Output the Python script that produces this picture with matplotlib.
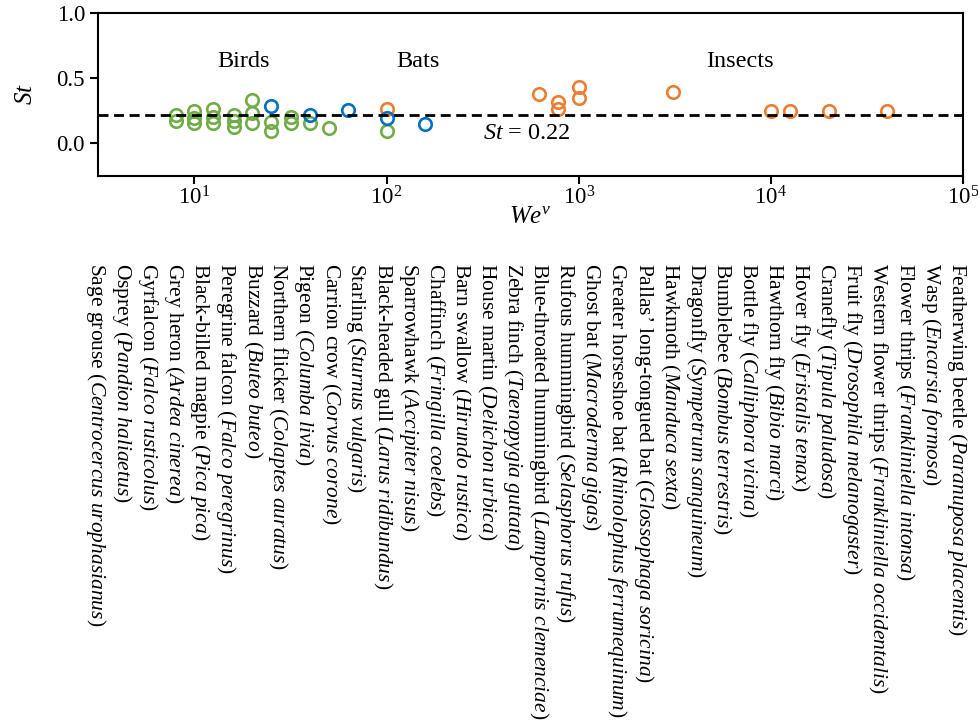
import matplotlib
matplotlib.use("Agg")
import matplotlib.pyplot as plt
from matplotlib.ticker import LogLocator, NullLocator

plt.rcParams["font.family"] = ["Liberation Serif", "DejaVu Serif"]
plt.rcParams["mathtext.fontset"] = "custom"
plt.rcParams["mathtext.rm"] = "Liberation Serif"
plt.rcParams["mathtext.it"] = "Liberation Serif:italic"
plt.rcParams["mathtext.bf"] = "Liberation Serif:bold"

# Weber number (We^v) and Strouhal number (St) per group
bird_we = [8, 8, 10, 10, 10, 12.5, 12.5, 12.5, 16, 16, 16, 20, 20, 20,
           25, 25, 32, 32, 40, 50, 100]
bird_st = [0.215, 0.175, 0.245, 0.195, 0.155, 0.26, 0.205, 0.155, 0.215,
           0.17, 0.125, 0.33, 0.235, 0.155, 0.165, 0.095, 0.20, 0.16, 0.16,
           0.115, 0.095]

bat_we = [25, 40, 63, 100, 158]
bat_st = [0.285, 0.215, 0.255, 0.195, 0.15]

insect_we = [100, 625, 780, 780, 1000, 1000, 3100, 10000, 12600, 20000, 40000]
insect_st = [0.265, 0.375, 0.32, 0.26, 0.435, 0.35, 0.39, 0.25, 0.25, 0.25, 0.25]

st_mean = 0.22

group_names = ["Birds", "Bats", "Insects"]
group_label_x = [18, 145, 6900]

species_common = [
    "Sage grouse", "Osprey", "Gyrfalcon", "Grey heron", "Black-billed magpie",
    "Peregrine falcon", "Buzzard", "Northern flicker", "Pigeon", "Carrion crow",
    "Starling", "Black-headed gull", "Sparrowhawk", "Chaffinch", "Barn swallow",
    "House martin", "Zebra finch", "Blue-throated hummingbird",
    "Rufous hummingbird", "Ghost bat", "Greater horseshoe bat",
    "Pallas\u2019 long-tongued bat", "Hawkmoth", "Dragonfly", "Bumblebee",
    "Bottle fly", "Hawthorn fly", "Hover fly", "Cranefly", "Fruit fly",
    "Western flower thrips", "Flower thrips", "Wasp", "Featherwing beetle",
]
species_latin = [
    "Centrocercus urophasianus", "Pandion haliaetus", "Falco rusticolus",
    "Ardea cinerea", "Pica pica", "Falco peregrinus", "Buteo buteo",
    "Colaptes auratus", "Columba livia", "Corvus corone", "Sturnus vulgaris",
    "Larus ridibundus", "Accipiter nisus", "Fringilla coelebs",
    "Hirundo rustica", "Delichon urbica", "Taenopygia guttata",
    "Lampornis clemenciae", "Selasphorus rufus", "Macroderma gigas",
    "Rhinolophus ferrumequinum", "Glossophaga soricina", "Manduca sexta",
    "Sympetrum sanguineum", "Bombus terrestris", "Calliphora vicina",
    "Bibio marci", "Eristalis tenax", "Tipula paludosa",
    "Drosophila melanogaster", "Frankliniella occidentalis",
    "Frankliniella intonsa", "Encarsia formosa", "Paranuposa placentis",
]

green = "#70AD47"
blue = "#0070C0"
orange = "#ED7D31"

fig = plt.figure(figsize=(9.79, 7.28), dpi=100)
ax = fig.add_axes([0.1004, 0.758, 0.8833, 0.2246])

marker_kw = dict(linestyle="none", marker="o", markersize=9,
                 markerfacecolor="none", markeredgewidth=1.9)
ax.plot(bird_we, bird_st, markeredgecolor=green, **marker_kw)
ax.plot(insect_we, insect_st, markeredgecolor=orange, **marker_kw)
ax.plot(bat_we, bat_st, markeredgecolor=blue, **marker_kw)

ax.axhline(st_mean, color="black", linestyle="--", linewidth=2, dashes=(3.6, 2.0))

ax.set_xscale("log")
ax.set_xlim(10 ** 0.5, 1e5)
ax.set_ylim(-0.25, 1.0)
ax.xaxis.set_major_locator(LogLocator(base=10, numticks=10))
ax.xaxis.set_minor_locator(NullLocator())
ax.set_yticks([0.0, 0.5, 1.0])
ax.set_yticklabels(["0.0", "0.5", "1.0"])

for s in ax.spines.values():
    s.set_linewidth(1.5)
ax.tick_params(axis="both", which="major", length=6, width=1.5,
               labelsize=16.5, direction="out")
ax.tick_params(axis="x", pad=1.5)

ax.set_ylabel(r"$\mathit{St}$", fontsize=18, labelpad=14)
ax.set_xlabel(r"$\mathit{We}^{\mathit{v}}$", fontsize=18, labelpad=-3)

for name, gx in zip(group_names, group_label_x):
    ax.text(gx, 0.63, name, fontsize=17.5, ha="center", va="center")

ax.text(535, 0.075, r"$\mathit{St}$ = " + f"{st_mean:.2f}", fontsize=17.5,
        ha="center", va="center")

# Species list printed below the axis, one vertical line per species
x0_px, step_px, top_px = 95.5, 26.1, 263
W, H = 979, 728
for i, (common, latin) in enumerate(zip(species_common, species_latin)):
    latin_math = latin.replace(" ", r"\ ")
    label = f"{common} (" + r"$\mathit{" + latin_math + r"}$" + ")"
    fig.text((x0_px + i * step_px) / W, 1 - top_px / H, label,
             rotation=-90, ha="center", va="top", fontsize=15.5)

fig.savefig("out.png", dpi=100)
